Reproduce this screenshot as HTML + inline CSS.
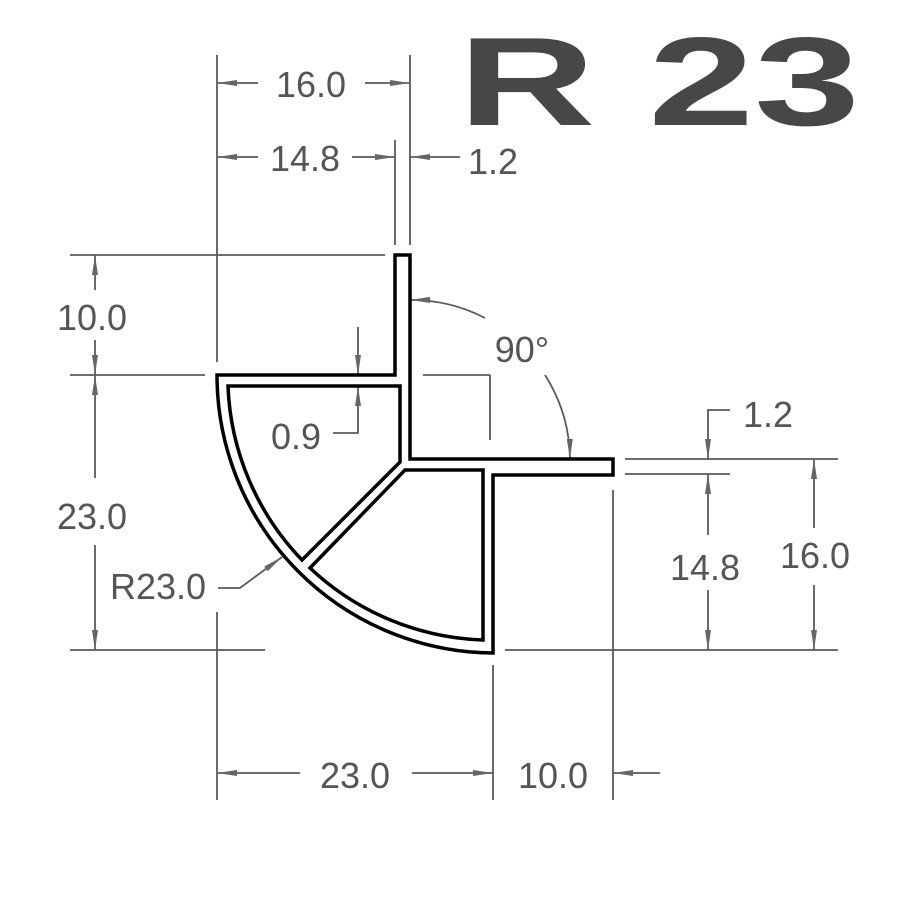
<!DOCTYPE html>
<html><head><meta charset="utf-8"><style>
html,body{margin:0;padding:0;background:#fff;}
svg{display:block;}
text{font-family:"Liberation Sans",sans-serif;fill:#555;}
</style></head><body>
<svg width="900" height="900" viewBox="0 0 900 900" xmlns="http://www.w3.org/2000/svg">
<defs>
<marker id="a" viewBox="0 0 20 8" refX="20" refY="4" markerWidth="20" markerHeight="8" markerUnits="userSpaceOnUse" orient="auto-start-reverse">
<path d="M0,1 L20,4 L0,7 Z" fill="#666"/>
</marker>
</defs>
<rect width="900" height="900" fill="#fff"/>
<text x="458" y="125" font-size="126" font-weight="bold" textLength="402" lengthAdjust="spacingAndGlyphs" style="fill:#474747">R 23</text>

<g stroke="#5a5a5a" stroke-width="1.8" fill="none">
<line x1="217" y1="55" x2="217" y2="362"/>
<line x1="217" y1="612" x2="217" y2="800"/>
<line x1="410" y1="55" x2="410" y2="245"/>
<line x1="395" y1="140" x2="395" y2="245"/>
<line x1="70" y1="255" x2="385" y2="255"/>
<line x1="70" y1="375" x2="205" y2="375"/>
<line x1="70" y1="650" x2="265" y2="650"/>
<line x1="505" y1="650" x2="838" y2="650"/>
<line x1="625" y1="459" x2="838" y2="459"/>
<line x1="625" y1="474" x2="730" y2="474"/>
<line x1="613" y1="490" x2="613" y2="800"/>
<line x1="493" y1="665" x2="493" y2="800"/>
<line x1="423" y1="375" x2="490" y2="375"/>
<line x1="490" y1="375" x2="490" y2="440"/>
<line x1="258" y1="83" x2="217" y2="83" marker-end="url(#a)"/>
<line x1="365" y1="83" x2="410" y2="83" marker-end="url(#a)"/>
<line x1="258" y1="157" x2="217" y2="157" marker-end="url(#a)"/>
<line x1="352" y1="157" x2="395" y2="157" marker-end="url(#a)"/>
<line x1="460" y1="157" x2="410" y2="157" marker-end="url(#a)"/>
<line x1="95" y1="290" x2="95" y2="255" marker-end="url(#a)"/>
<line x1="95" y1="340" x2="95" y2="375" marker-end="url(#a)"/>
<line x1="95" y1="478" x2="95" y2="375" marker-end="url(#a)"/>
<line x1="95" y1="545" x2="95" y2="650" marker-end="url(#a)"/>
<line x1="358" y1="327" x2="358" y2="375" marker-end="url(#a)"/>
<polyline points="333,433 358,433 358,386" marker-end="url(#a)"/>
<path d="M485,318 A160,160 0 0 0 410,300" marker-end="url(#a)"/>
<path d="M545,375 A160,160 0 0 1 570,459" marker-end="url(#a)"/>
<polyline points="730,410 708,410 708,459" marker-end="url(#a)"/>
<line x1="708" y1="535" x2="708" y2="474" marker-end="url(#a)"/>
<line x1="708" y1="590" x2="708" y2="650" marker-end="url(#a)"/>
<line x1="814" y1="528" x2="814" y2="459" marker-end="url(#a)"/>
<line x1="814" y1="585" x2="814" y2="650" marker-end="url(#a)"/>
<line x1="300" y1="773" x2="217" y2="773" marker-end="url(#a)"/>
<line x1="412" y1="773" x2="493" y2="773" marker-end="url(#a)"/>
<line x1="660" y1="773" x2="613" y2="773" marker-end="url(#a)"/>
<polyline points="218,588 240,588 282,557" marker-end="url(#a)"/>
</g>

<g stroke="#000" stroke-width="3.5" fill="none" stroke-linejoin="miter">
<path d="M395,255 L410,255 L410,459 L613,459 L613,475 L493,475 L493,653 A278,278 0 0 1 217,375 L395,375 Z"/>
<path d="M228,386 L400,386 L400,462 L302,560 A265,265 0 0 1 228,386 Z"/>
<path d="M405,470 L483,470 L483,640 A265,265 0 0 1 310,568 Z"/>
</g>

<g font-size="36">
<text x="311" y="97" text-anchor="middle">16.0</text>
<text x="305" y="171" text-anchor="middle">14.8</text>
<text x="493" y="174" text-anchor="middle">1.2</text>
<text x="92" y="330" text-anchor="middle">10.0</text>
<text x="92" y="529" text-anchor="middle">23.0</text>
<text x="296" y="449" text-anchor="middle">0.9</text>
<text x="522" y="362" text-anchor="middle">90°</text>
<text x="768" y="427" text-anchor="middle">1.2</text>
<text x="705" y="580" text-anchor="middle">14.8</text>
<text x="815" y="568" text-anchor="middle">16.0</text>
<text x="158" y="599" text-anchor="middle">R23.0</text>
<text x="355" y="788" text-anchor="middle">23.0</text>
<text x="553" y="788" text-anchor="middle">10.0</text>
</g>
</svg>
</body></html>
